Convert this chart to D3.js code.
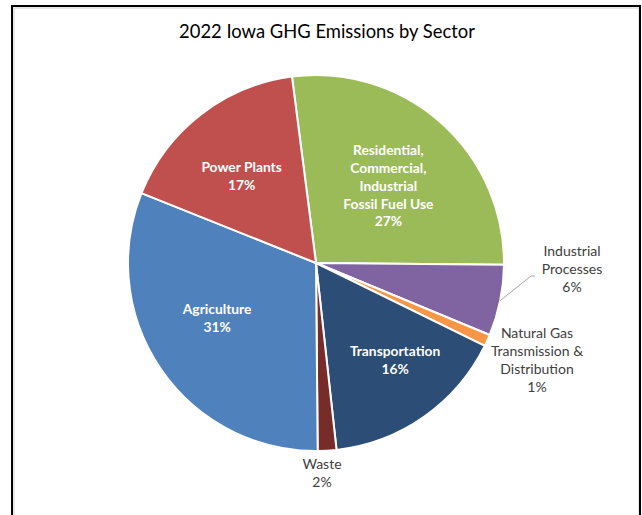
<!DOCTYPE html>
<html>
<head>
<meta charset="utf-8">
<script src="https://cdn.jsdelivr.net/npm/d3@7"></script>
<style>
  body { margin: 0; background: #fff; }
  text { font-family: Lato, "Open Sans", sans-serif; }
</style>
</head>
<body>
<div class="chart-area"></div>
<script>
// data (percent of total)
var sectors = ["Residential, Commercial, Industrial Fossil Fuel Use", "Industrial Processes",
    "Natural Gas Transmission & Distribution", "Transportation", "Waste", "Agriculture", "Power Plants"];
var values = [27.2, 6.1, 1.0, 16.0, 1.6, 31.2, 16.9];
var labels = ["27%", "6%", "1%", "16%", "2%", "31%", "17%"];
var labelLines = [
    ["Residential,", "Commercial,", "Industrial", "Fossil Fuel Use"],
    ["Industrial", "Processes"],
    ["Natural Gas", "Transmission &", "Distribution"],
    ["Transportation"],
    ["Waste"],
    ["Agriculture"],
    ["Power Plants"]
];
var colors = ["#9bbb59", "#8064a2", "#f79646", "#2c4d75", "#772c2a", "#4f81bd", "#c0504d"];

var width = 642, height = 515;
var cx = 316, cy = 263, radius = 188;
var startDeg = -7.35;

var svg = d3.select(".chart-area")
    .append("svg")
    .attr("width", width)
    .attr("height", height);

// frame
svg.append("rect")
    .attr("x", 14).attr("y", 8)
    .attr("width", 625).attr("height", 520)
    .attr("fill", "none")
    .attr("stroke", "#d0d0d0")
    .attr("stroke-width", 1);
svg.append("rect")
    .attr("x", 12).attr("y", 6)
    .attr("width", 628).attr("height", 520)
    .attr("fill", "none")
    .attr("stroke", "#000")
    .attr("stroke-width", 2);

svg.append("text")
    .attr("x", 327).attr("y", 38)
    .attr("text-anchor", "middle")
    .attr("font-size", 18.4)
    .attr("fill", "#000")
    .text("2022 Iowa GHG Emissions by Sector");

var start = startDeg * Math.PI / 180;
var pie = d3.pie().sort(null).value(function(d) { return d; })
    .startAngle(start).endAngle(start + 2 * Math.PI);
var arcs = pie(values);

var arc = d3.arc().innerRadius(0).outerRadius(radius);
var labelArc = d3.arc().innerRadius(115).outerRadius(115);

var g = svg.append("g").attr("transform", "translate(" + cx + "," + cy + ")");

g.selectAll("path.slice")
    .data(arcs)
    .enter()
    .append("path")
    .attr("class", "slice")
    .attr("d", arc)
    .attr("fill", function(d, i) { return colors[i]; })
    .attr("stroke", "#fff")
    .attr("stroke-width", 2)
    .attr("stroke-linejoin", "round");

// inside labels get a small nudge from the centroid, outside ones sit where Excel put them
var inside = { 0: [-4, 9], 3: [13, 3], 5: [-4, -10], 6: [-4, 4] };
var outside = { 1: [256, 6], 2: [221, 97], 4: [6, 210] };
var lineH = 17.8;

arcs.forEach(function(d, i) {
    var lines = labelLines[i].concat([labels[i]]);
    var pos, isIn = inside[i] !== undefined;
    if (isIn) {
        var c = labelArc.centroid(d);
        pos = [c[0] + inside[i][0], c[1] + inside[i][1]];
    } else {
        pos = outside[i];
    }
    var t = g.append("text")
        .attr("text-anchor", "middle")
        .attr("font-size", isIn ? 13.8 : 14)
        .attr("font-weight", isIn ? "bold" : "normal")
        .attr("fill", isIn ? "#fff" : "#404040");
    var top = pos[1] - (lines.length - 1) * lineH / 2;
    lines.forEach(function(s, k) {
        t.append("tspan")
            .attr("x", pos[0])
            .attr("y", top + k * lineH)
            .attr("dy", "0.35em")
            .text(s);
    });
});

// leader line for Industrial Processes
var ip = arcs[1];
var mid = (ip.startAngle + ip.endAngle) / 2;
var p0 = [Math.sin(mid) * radius, -Math.cos(mid) * radius];
g.append("path")
    .attr("d", d3.line()([p0, [215, 13], [219, 13]]))
    .attr("fill", "none")
    .attr("stroke", "#a6a6a6")
    .attr("stroke-width", 1);
</script>
</body>
</html>
